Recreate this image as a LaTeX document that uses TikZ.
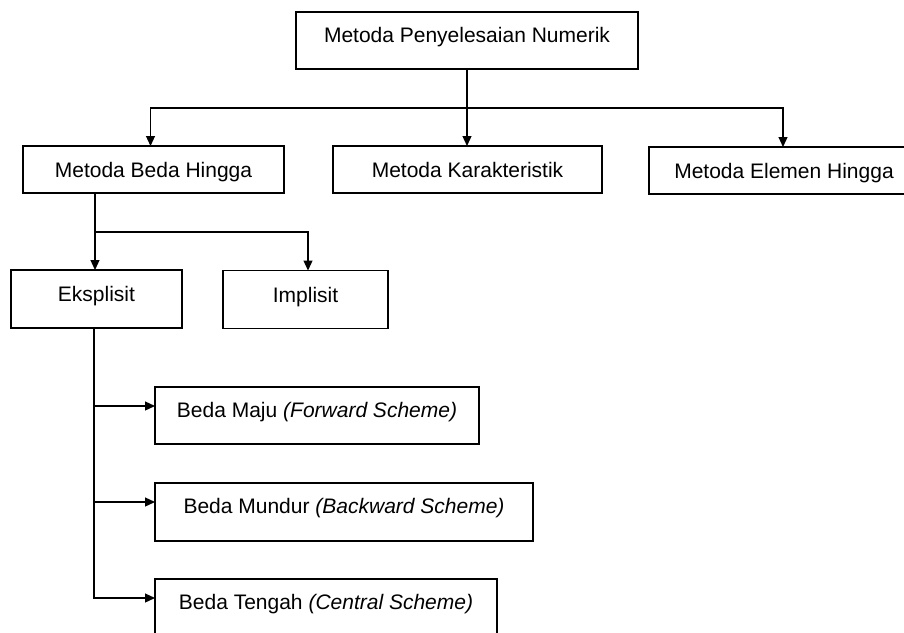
\documentclass[tikz,border=0pt]{standalone}
\usepackage{fontspec}
\setmainfont{Liberation Sans}
\usetikzlibrary{arrows.meta}
\begin{document}
\begin{tikzpicture}[x=1pt,y=-1pt,
  box/.style={draw, line width=1.2pt, inner sep=0pt, outer sep=0pt,
    font=\fontsize{21}{25}\selectfont, text height=15pt, text depth=0pt},
  hi/.style={text depth=12pt},
  hib/.style={text depth=10pt},
  conn/.style={line width=1.2pt},
  arr/.style={line width=1.2pt, -{Triangle[length=10pt,width=9pt]}}]
\clip (0,0) rectangle (904,632);
\fill[white] (0,0) rectangle (904,632);

\node[box,hi, minimum width=342pt, minimum height=57pt] (top) at (467,40.5) {Metoda Penyelesaian Numerik};
\node[box, minimum width=261pt, minimum height=47pt] (beda) at (153.5,169.5) {Metoda Beda Hingga};
\node[box, minimum width=269pt, minimum height=47pt] (kar) at (467.5,169.5) {Metoda Karakteristik};
\node[box, minimum width=270pt, minimum height=47pt] (elemen) at (784,170.5) {Metoda Elemen Hingga};
\node[box,hib, minimum width=171pt, minimum height=58pt] (eks) at (96.5,299) {Eksplisit};
\node[box,hib, minimum width=165pt, minimum height=58pt] (imp) at (305.5,299.5) {Implisit};
\node[box,hi, minimum width=324pt, minimum height=57pt] (maju) at (317,415.5) {Beda Maju \textit{(Forward Scheme)}};
\node[box,hi, minimum width=378pt, minimum height=58pt] (mundur) at (344,512) {Beda Mundur \textit{(Backward Scheme)}};
\node[box,hi, minimum width=342pt, minimum height=57pt] (tengah) at (326,607.5) {Beda Tengah \textit{(Central Scheme)}};

% top level
\coordinate (bus) at (467,108);
\draw[arr] (top.south) -- (top.south |- kar.north);
\draw[arr] (bus) -| ([xshift=-3pt]beda.north);
\draw[arr] (bus) -| ([xshift=-1pt]elemen.north);

% beda hingga
\coordinate (bx) at ([xshift=-1.5pt]eks.north);
\coordinate (bus2) at (95,232);
\draw[arr] (bx |- beda.south) -- (bx);
\draw[arr] (bus2) -| ([xshift=2.5pt]imp.north);

% eksplisit
\coordinate (ex) at ([xshift=-2.5pt]eks.south);
\coordinate (mj) at ([yshift=9.5pt]maju.west);
\coordinate (md) at ([yshift=10pt]mundur.west);
\coordinate (tg) at ([yshift=9.5pt]tengah.west);
\draw[arr] (ex) |- (tg);
\draw[arr] (ex |- mj) -- (mj);
\draw[arr] (ex |- md) -- (md);
\end{tikzpicture}
\end{document}
